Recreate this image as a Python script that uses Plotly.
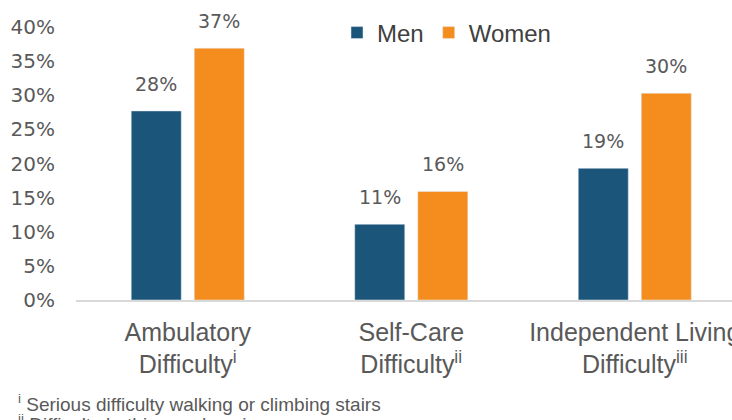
import plotly.graph_objects as go

categories = ["Ambulatory<br>Difficulty<sup>i</sup>",
              "Self-Care<br>Difficulty<sup>ii</sup>",
              "Independent Living<br>Difficulty<sup>iii</sup>"]
men = [0.277, 0.111, 0.193]
women = [0.369, 0.159, 0.303]
men_labels = ["28%", "11%", "19%"]
women_labels = ["37%", "16%", "30%"]
y_ticks = [0, 0.05, 0.10, 0.15, 0.20, 0.25, 0.30, 0.35, 0.40]
y_ticktext = ["0%", "5%", "10%", "15%", "20%", "25%", "30%", "35%", "40%"]
footnotes = ["<sup>i</sup> Serious difficulty walking or climbing stairs",
             "<sup>ii</sup> Difficulty bathing or dressing"]

BLUE = "#1B5579"
ORANGE = "#F48D1E"
GRAY = "#595959"
CAT_FONT = "Liberation Sans, Arial, sans-serif"
NUM_FONT = "DejaVu Sans, Verdana, sans-serif"

fig = go.Figure()
fig.add_trace(go.Bar(name="Men", x=categories, y=men, marker_color=BLUE))
fig.add_trace(go.Bar(name="Women", x=categories, y=women, marker_color=ORANGE))

# value labels above each bar
for vals, labels, shift in [(men, men_labels, -31.5), (women, women_labels, 31.5)]:
    for c, v, t in zip(categories, vals, labels):
        fig.add_annotation(x=c, y=v, text=t, xref="x", yref="y",
                           xshift=shift, yshift=14, yanchor="bottom",
                           showarrow=False,
                           font=dict(size=19, color=GRAY, family=NUM_FONT))

fig.update_layout(
    width=732, height=420,
    margin=dict(l=76, r=0, t=27, b=120, autoexpand=False),
    paper_bgcolor="white", plot_bgcolor="white",
    barmode="group", bargap=0.436, bargroupgap=0.206,
    font=dict(family=CAT_FONT, color=GRAY),
    showlegend=True,
    legend=dict(orientation="h", x=(337 - 76) / 656, y=0.978,
                xanchor="left", yanchor="middle",
                font=dict(size=24, color="#404040", family=CAT_FONT),
                itemwidth=30, bgcolor="rgba(0,0,0,0)", traceorder="normal"),
    xaxis=dict(type="category", range=[-0.5, 2.435], showline=True,
               linecolor="#D9D9D9", linewidth=1.5, showgrid=False,
               tickfont=dict(size=25, color=GRAY, family=CAT_FONT), ticks="",
               ticklabelstandoff=9, automargin=False),
    yaxis=dict(range=[0, 0.40], tickvals=y_ticks, ticktext=y_ticktext,
               showgrid=False, zeroline=False, showline=False,
               tickfont=dict(size=20, color=GRAY, family=NUM_FONT),
               ticklabelstandoff=20, automargin=False),
)

for i, fn in enumerate(footnotes):
    fig.add_annotation(text=fn, xref="paper", yref="paper",
                       x=(16 - 76) / 656, y=(300 - 403 - 20 * i) / 273,
                       xanchor="left", yanchor="middle", showarrow=False,
                       font=dict(size=19, color=GRAY, family=CAT_FONT))

fig.write_html("out.html")
